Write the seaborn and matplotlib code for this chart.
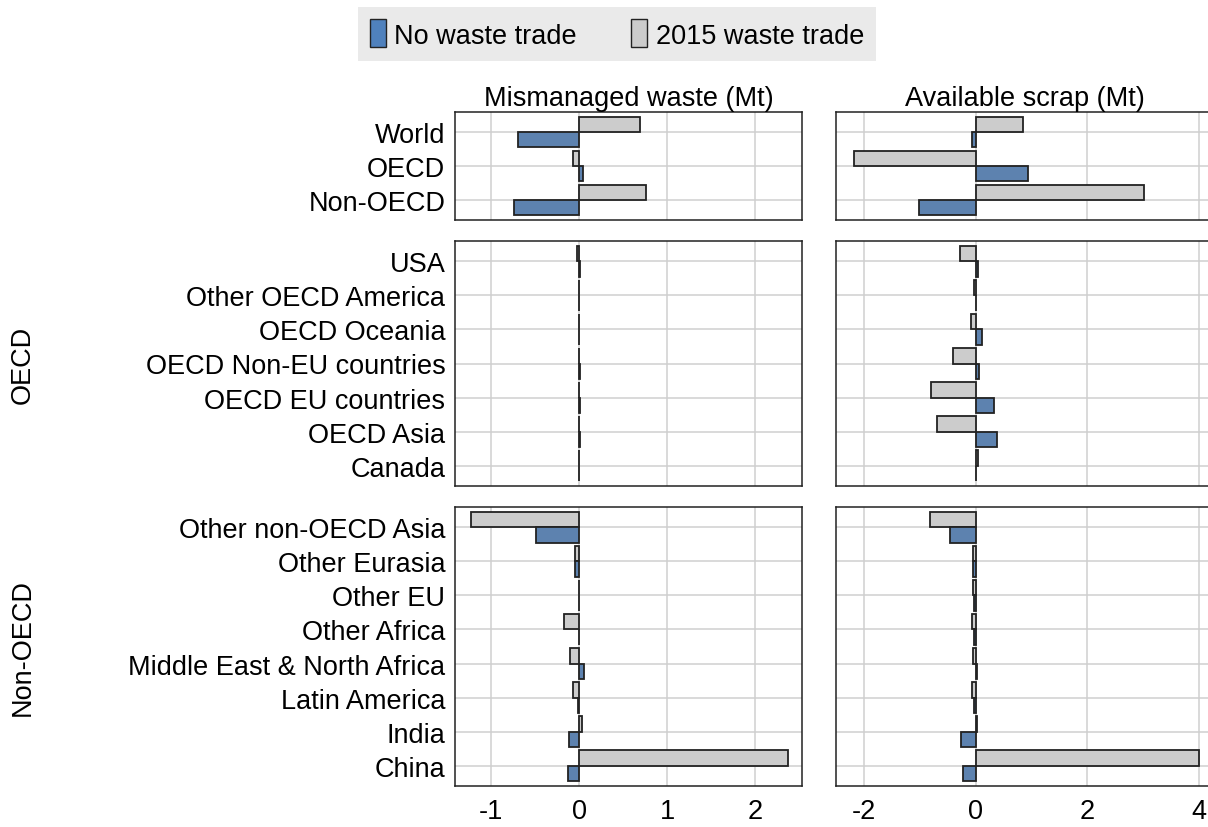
import matplotlib
matplotlib.use("Agg")
import matplotlib.pyplot as plt
import seaborn as sns
import pandas as pd
from matplotlib.patches import Patch

sns.set_theme(style="white")
plt.rcParams['font.family'] = ['Liberation Sans', 'DejaVu Sans']
plt.rcParams['text.color'] = 'black'

# ---- data ----
world_regions = ["World", "OECD", "Non-OECD"]
oecd_regions = ["USA", "Other OECD America", "OECD Oceania", "OECD Non-EU countries",
                "OECD EU countries", "OECD Asia", "Canada"]
nonoecd_regions = ["Other non-OECD Asia", "Other Eurasia", "Other EU", "Other Africa",
                   "Middle East & North Africa", "Latin America", "India", "China"]

# Mismanaged waste (Mt)
mism_trade_world = [0.69, -0.065, 0.76]
mism_none_world = [-0.70, 0.04, -0.74]
mism_trade_oecd = [-0.03, 0.002, 0.002, -0.005, -0.005, -0.005, 0.002]
mism_none_oecd = [0.01, 0.002, 0.002, 0.005, 0.01, 0.01, 0.001]
mism_trade_non = [-1.23, -0.05, -0.003, -0.17, -0.10, -0.065, 0.03, 2.37]
mism_none_non = [-0.49, -0.05, 0.002, -0.005, 0.05, -0.01, -0.11, -0.13]

# Available scrap (Mt)
scrap_trade_world = [0.85, -2.18, 3.02]
scrap_none_world = [-0.06, 0.93, -1.01]
scrap_trade_oecd = [-0.28, -0.02, -0.08, -0.40, -0.80, -0.70, 0.05]
scrap_none_oecd = [0.05, 0.01, 0.11, 0.06, 0.33, 0.39, 0.005]
scrap_trade_non = [-0.82, -0.04, -0.04, -0.06, -0.04, -0.06, 0.03, 4.01]
scrap_none_non = [-0.46, -0.04, -0.02, -0.02, 0.03, -0.02, -0.26, -0.23]

scenarios = ["2015 waste trade", "No waste trade"]
palette = {"No waste trade": "#4f81bd", "2015 waste trade": "#cccccc"}

rows = [
    (world_regions, mism_trade_world, mism_none_world, scrap_trade_world, scrap_none_world, ""),
    (oecd_regions, mism_trade_oecd, mism_none_oecd, scrap_trade_oecd, scrap_none_oecd, "OECD"),
    (nonoecd_regions, mism_trade_non, mism_none_non, scrap_trade_non, scrap_none_non, "Non-OECD"),
]

W, H = 1208, 828
fig = plt.figure(figsize=(W / 100, H / 100), dpi=100)

row_px = [(113, 221), (242, 487), (508, 787)]
col_px = [(455, 802), (836, 1214)]
xlims = [(-1.41, 2.53), (-2.50, 4.27)]
xticks = [[-1, 0, 1, 2], [-2, 0, 2, 4]]
titles = ["Mismanaged waste (Mt)", "Available scrap (Mt)"]
FS = 19.5
EDGE = "#222222"

for r, (regions, mt, mn, st, sn, label) in enumerate(rows):
    y0, y1 = row_px[r]
    for c in range(2):
        x0, x1 = col_px[c]
        ax = fig.add_axes([x0 / W, 1 - y1 / H, (x1 - x0) / W, (y1 - y0) / H])
        vt, vn = (mt, mn) if c == 0 else (st, sn)
        df = pd.DataFrame({
            "region": regions * 2,
            "value": list(vt) + list(vn),
            "scenario": [scenarios[0]] * len(regions) + [scenarios[1]] * len(regions),
        })
        sns.barplot(data=df, y="region", x="value", hue="scenario", hue_order=scenarios,
                    order=regions, palette=palette, orient="h", width=0.9,
                    edgecolor=EDGE, linewidth=1.3, legend=False, ax=ax, zorder=3)
        n = len(regions)
        ax.set_ylim(n - 1 + 0.6, -0.6)
        ax.set_xlim(*xlims[c])
        ax.set_xticks(xticks[c])
        ax.set_yticks(range(n))
        ax.set_xlabel("")
        ax.set_ylabel("")
        ax.grid(True, color="#cfcfcf", linewidth=1.1, zorder=0)
        ax.set_axisbelow(True)
        for s in ax.spines.values():
            s.set_color(EDGE)
            s.set_linewidth(1.1)
        ax.tick_params(length=0, labelsize=FS, pad=7, colors="black")
        if c == 0:
            ax.set_yticklabels(regions)
        else:
            ax.set_yticklabels([])
        if r < 2:
            ax.set_xticklabels([])
        else:
            ax.set_xticklabels([str(t) for t in xticks[c]])
            ax.tick_params(axis="x", pad=9)
        if r == 0:
            ax.set_title(titles[c], fontsize=FS, pad=5, color="black")
    if label:
        fig.text(23 / W, 1 - ((y0 + y1) / 2) / H, label, rotation=90, fontsize=FS,
                 ha="center", va="center", color="black")

handles = [Patch(facecolor=palette["No waste trade"], edgecolor=EDGE, label="No waste trade"),
           Patch(facecolor=palette["2015 waste trade"], edgecolor=EDGE, label="2015 waste trade")]
leg = fig.legend(handles=handles, loc="center", bbox_to_anchor=(617 / W, 1 - 35 / H), ncol=2,
                 fontsize=FS, frameon=True, fancybox=False, handlelength=0.6, handleheight=1.2,
                 handletextpad=0.3, columnspacing=2.0, borderpad=0.45)
leg.get_frame().set_facecolor("#e5e5e5")
leg.get_frame().set_edgecolor("none")

fig.savefig("out.png", dpi=100)
